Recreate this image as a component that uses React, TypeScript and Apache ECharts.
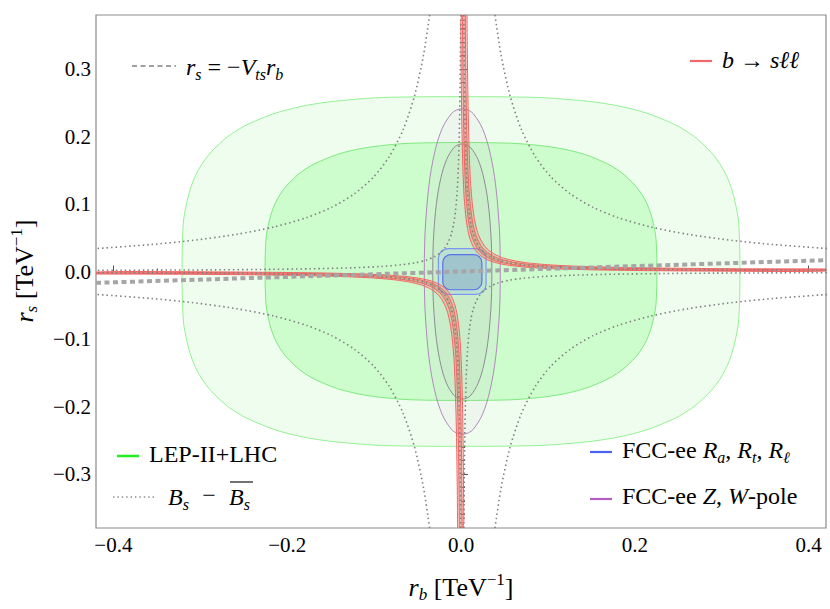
import React, { useEffect, useRef } from 'react';
import * as echarts from 'echarts';

type P = [number, number];

// ---------- axes ----------
const X_MIN = -0.42;
const X_MAX = 0.42;
const Y_MIN = -0.38;
const Y_MAX = 0.38;
const xMajorTicks = [-0.4, -0.2, 0, 0.2, 0.4];
const xMinorTicks = [-0.35, -0.3, -0.25, -0.15, -0.1, -0.05, 0.05, 0.1, 0.15, 0.25, 0.3, 0.35];
const yMajorTicks = [-0.3, -0.2, -0.1, 0, 0.1, 0.2, 0.3];
const yMinorTicks = [
  -0.36, -0.34, -0.32, -0.28, -0.26, -0.24, -0.22, -0.18, -0.16, -0.14, -0.12, -0.08, -0.06, -0.04, -0.02,
  0.02, 0.04, 0.06, 0.08, 0.12, 0.14, 0.16, 0.18, 0.22, 0.24, 0.26, 0.28, 0.32, 0.34, 0.36,
];

// ---------- data ----------
const V_TS = -0.04; // r_s = -V_ts r_b
const CENTER_RB = 0.0015; // horizontal centre of the FCC-ee / b->sll / Bs structures

// LEP-II + LHC regions, first quadrant boundary (r_b, r_s), mirrored about the axes
const lepOuterQuadrant: P[] = [
  [0.321, 0], [0.3202, 0.0564], [0.318, 0.0867], [0.3087, 0.1325], [0.2934, 0.1679], [0.2717, 0.1965],
  [0.2585, 0.2085], [0.2435, 0.2192], [0.2081, 0.2368], [0.1642, 0.2491], [0.1075, 0.2565], [0.0698, 0.2584], [0, 0.259],
];
const lepInnerQuadrant: P[] = [
  [0.2255, 0], [0.2249, 0.0375], [0.2232, 0.0594], [0.2163, 0.0934], [0.2049, 0.1203], [0.1888, 0.1422],
  [0.179, 0.1516], [0.1679, 0.1599], [0.1421, 0.1735], [0.1102, 0.1832], [0.0701, 0.1891], [0.0443, 0.1905], [0, 0.191],
];

// FCC-ee Z,W-pole regions (offsets from CENTER_RB)
const zwOuterQuadrant: P[] = [
  [0.0437, 0], [0.0434, 0.0378], [0.0423, 0.0705], [0.0383, 0.1284], [0.0319, 0.1759], [0.0233, 0.2115],
  [0.0128, 0.2335], [0.0069, 0.2391], [0, 0.241],
];
const zwInnerQuadrant: P[] = [
  [0.034, 0], [0.0337, 0.0297], [0.0329, 0.0553], [0.0298, 0.1007], [0.0248, 0.1379], [0.0181, 0.1658],
  [0.01, 0.1831], [0.0053, 0.1875], [0, 0.189],
];

// FCC-ee R_a, R_t, R_l boxes: [[rbMin, rsMin], [rbMax, rsMax]]
const raOuterBox: P[] = [[-0.026, -0.034], [0.0288, 0.034]];
const raInnerBox: P[] = [[-0.021, -0.027], [0.024, 0.025]];

// b -> s l l band centre, upper-right branch
const bsllBranch: P[] = [
  [0.0032, 0.40], [0.0033, 0.38], [0.0038, 0.30], [0.0047, 0.22], [0.0059, 0.16], [0.0073, 0.12], [0.0093, 0.09],
  [0.0115, 0.07], [0.0142, 0.055], [0.0175, 0.044], [0.0215, 0.035], [0.0265, 0.028], [0.0335, 0.022],
  [0.0425, 0.017], [0.0555, 0.013], [0.0715, 0.010], [0.0945, 0.0075], [0.1285, 0.0055], [0.1765, 0.004],
  [0.2345, 0.003], [0.2915, 0.0024], [0.43, 0.0017],
];
// band half-widths: [radial scale, r_b shift, r_s shift] for the 2-sigma and 1-sigma bands
const bsllBand2: [number, number, number] = [1.075, 0.0033, 0.0015];
const bsllBand1: [number, number, number] = [1.035, 0.0015, 0.0007];

// Bs mixing outer bound, upper-right branch
const bsMixOuterBranch: P[] = [
  [0.0373, 0.40], [0.0391, 0.38], [0.0462, 0.32], [0.0565, 0.26], [0.0696, 0.21], [0.0856, 0.17], [0.1036, 0.14],
  [0.1258, 0.115], [0.152, 0.095], [0.1803, 0.08], [0.2182, 0.066], [0.2615, 0.055], [0.3125, 0.046],
  [0.359, 0.04], [0.4221, 0.034],
];

// ---------- helpers ----------
const closeQuadrant = (q: P[], cx: number): P[] => {
  const q1 = q.map(([x, y]) => [cx + x, y] as P);
  const q2 = [...q].reverse().map(([x, y]) => [cx - x, y] as P);
  const q3 = q.map(([x, y]) => [cx - x, -y] as P);
  const q4 = [...q].reverse().map(([x, y]) => [cx + x, -y] as P);
  return [...q1, ...q2.slice(1), ...q3.slice(1), ...q4.slice(1, -1)];
};
const mirrorPoint = (b: P[]): P[] => b.map(([x, y]) => [2 * CENTER_RB - x, -y] as P);
const mirrorH = (b: P[]): P[] => b.map(([x, y]) => [2 * CENTER_RB - x, y] as P);
const mirrorV = (b: P[]): P[] => b.map(([x, y]) => [x, -y] as P);
const bandPolygon = (branch: P[], [s, ox, oy]: [number, number, number]): P[] => {
  const out = branch.map(([x, y]) => [CENTER_RB + (x - CENTER_RB) * s + ox, y * s + oy] as P);
  const inn = branch.map(([x, y]) => [CENTER_RB + (x - CENTER_RB) / s - ox, y / s - oy] as P).reverse();
  return [...out, ...inn];
};

const FF = "'Liberation Serif', 'DejaVu Serif', serif";

const shapeSeries = (points: P[], style: any, smooth = 0.35) => ({
  type: 'custom',
  coordinateSystem: 'cartesian2d',
  xAxisIndex: 0,
  yAxisIndex: 0,
  clip: true,
  silent: true,
  data: [[0, 0]],
  renderItem: (_p: any, api: any) => ({
    type: 'polygon',
    shape: { points: points.map((p) => api.coord(p)), smooth },
    style,
  }),
});

const boxSeries = (box: P[], r: number, style: any) => ({
  type: 'custom',
  coordinateSystem: 'cartesian2d',
  xAxisIndex: 0,
  yAxisIndex: 0,
  clip: true,
  silent: true,
  data: [[0, 0]],
  renderItem: (_p: any, api: any) => {
    const a = api.coord([box[0][0], box[1][1]]);
    const b = api.coord([box[1][0], box[0][1]]);
    return {
      type: 'rect',
      shape: { x: a[0], y: a[1], width: b[0] - a[0], height: b[1] - a[1], r },
      style,
    };
  },
});

const curveSeries = (data: P[], lineStyle: any) => ({
  type: 'line',
  xAxisIndex: 0,
  yAxisIndex: 0,
  data,
  showSymbol: false,
  symbol: 'none',
  silent: true,
  clip: true,
  smooth: 0.25,
  lineStyle: { cap: 'butt', join: 'round', ...lineStyle },
});

const tickLabel = (v: number) => (v < 0 ? '\u2212' : '') + Math.abs(v).toFixed(1);

const richFor = (size: number) => ({
  n: { fontFamily: FF, fontSize: size, lineHeight: size + 6, fill: '#000' },
  i: { fontFamily: FF, fontStyle: 'italic', fontSize: size, lineHeight: size + 6, fill: '#000' },
  sb: {
    fontFamily: FF, fontStyle: 'italic', fontSize: Math.round(size * 0.66), lineHeight: Math.round(size * 0.66),
    verticalAlign: 'bottom', fill: '#000',
  },
  sp: {
    fontFamily: FF, fontSize: Math.round(size * 0.66), lineHeight: Math.round(size * 0.66),
    verticalAlign: 'top', fill: '#000',
  },
});

const legendText = (x: number, y: number, text: string, size = 24, align = 'left', rotation = 0) => ({
  type: 'text',
  x,
  y,
  rotation,
  silent: true,
  style: { text, rich: richFor(size), align, verticalAlign: 'middle', fill: '#000', fontFamily: FF, fontSize: size },
});
const legendLine = (x1: number, x2: number, y: number, stroke: string, lineWidth: number, lineDash?: number[]) => ({
  type: 'line',
  silent: true,
  shape: { x1, y1: y, x2, y2: y },
  style: { stroke, lineWidth, lineDash },
});

export default function App() {
  const ref = useRef<HTMLDivElement>(null);

  useEffect(() => {
    document.body.style.margin = '0';
    const chart = echarts.init(ref.current!, null, { renderer: 'svg' });

    const series: any[] = [];
    // LEP-II + LHC
    series.push(shapeSeries(closeQuadrant(lepOuterQuadrant, 0), { fill: '#effdef', stroke: '#94f294', lineWidth: 1 }));
    series.push(shapeSeries(closeQuadrant(lepInnerQuadrant, 0), { fill: '#cdfccd', stroke: '#7eea7e', lineWidth: 1 }));
    // FCC-ee Z,W-pole
    series.push(shapeSeries(closeQuadrant(zwOuterQuadrant, CENTER_RB), { fill: 'rgba(210,120,210,0.05)', stroke: '#b288bd', lineWidth: 1 }));
    series.push(shapeSeries(closeQuadrant(zwInnerQuadrant, CENTER_RB), { fill: 'rgba(110,100,120,0.05)', stroke: '#8f8a97', lineWidth: 1 }));
    // FCC-ee R_a, R_t, R_l
    series.push(boxSeries(raOuterBox, 10, { fill: 'rgba(130,170,255,0.16)', stroke: '#7d96f6', lineWidth: 1.2 }));
    series.push(boxSeries(raInnerBox, 8, { fill: 'rgba(95,130,200,0.3)', stroke: '#5a72ec', lineWidth: 1.2 }));
    // b -> s l l band (2 sigma, then 1 sigma), both branches
    const band2 = bandPolygon(bsllBranch, bsllBand2);
    const band1 = bandPolygon(bsllBranch, bsllBand1);
    [band2, mirrorPoint(band2)].forEach((poly) =>
      series.push(shapeSeries(poly, { fill: 'rgba(240,120,100,0.26)', stroke: '#f26464', lineWidth: 1 }, 0.2)),
    );
    [band1, mirrorPoint(band1)].forEach((poly) =>
      series.push(shapeSeries(poly, { fill: 'rgba(200,110,80,0.35)', stroke: '#f26464', lineWidth: 1 }, 0.2)),
    );
    // Bs mixing (dotted)
    const dotted = { width: 1.6, color: '#808080', type: [1.5, 3] };
    const inner = [bsllBranch, mirrorPoint(bsllBranch), mirrorH(bsllBranch), mirrorV(bsllBranch)];
    const outer = [bsMixOuterBranch, mirrorPoint(bsMixOuterBranch), mirrorH(bsMixOuterBranch), mirrorV(bsMixOuterBranch)];
    [...inner, ...outer].forEach((b) => series.push(curveSeries(b, dotted)));
    // r_s = -V_ts r_b
    series.push({
      ...curveSeries([[X_MIN, -V_TS * X_MIN], [X_MAX, -V_TS * X_MAX]], { width: 4, color: '#a6a6a6', type: [5, 3.5] }),
      smooth: false,
    });

    const axisLabelStyle = { color: '#000', fontFamily: FF, fontSize: 21 };

    chart.setOption({
      animation: false,
      backgroundColor: '#fff',
      grid: { left: 96, right: 4, top: 15, bottom: 81, show: true, borderColor: '#8a8a8a', borderWidth: 1.2, backgroundColor: 'transparent' },
      xAxis: [
        {
          type: 'value', min: X_MIN, max: X_MAX, position: 'bottom',
          axisLine: { show: false }, splitLine: { show: false },
          axisTick: { show: true, inside: true, length: 6, customValues: xMajorTicks, lineStyle: { color: '#555', width: 1 } },
          axisLabel: { show: true, customValues: xMajorTicks, formatter: tickLabel, margin: 6, ...axisLabelStyle },
        },
        {
          type: 'value', min: X_MIN, max: X_MAX, position: 'bottom',
          axisLine: { show: false }, splitLine: { show: false },
          axisTick: { show: true, inside: true, length: 3, customValues: xMinorTicks, lineStyle: { color: '#555', width: 1 } },
          axisLabel: { show: false },
        },
      ],
      yAxis: [
        {
          type: 'value', min: Y_MIN, max: Y_MAX, position: 'left',
          axisLine: { show: false }, splitLine: { show: false },
          axisTick: { show: true, inside: true, length: 7, customValues: yMajorTicks, lineStyle: { color: '#555', width: 1 } },
          axisLabel: { show: true, customValues: yMajorTicks, formatter: tickLabel, margin: 5, ...axisLabelStyle },
        },
        {
          type: 'value', min: Y_MIN, max: Y_MAX, position: 'left',
          axisLine: { show: false }, splitLine: { show: false },
          axisTick: { show: true, inside: true, length: 4, customValues: yMinorTicks, lineStyle: { color: '#555', width: 1 } },
          axisLabel: { show: false },
        },
      ],
      series,
      graphic: [
        // axis titles
        legendText(461, 587, '{i|r}{sb|b}{n| [TeV}{sp|\u22121}{n|]}', 26, 'center'),
        legendText(24, 271, '{i|r}{sb|s}{n| [TeV}{sp|\u22121}{n|]}', 26, 'center', Math.PI / 2),
        // legends
        legendLine(132, 176, 66, '#a0a0a0', 2.2, [5, 3.5]),
        legendText(186, 67, '{i|r}{sb|s}{n| = \u2212}{i|V}{sb|ts}{i|r}{sb|b}'),
        legendLine(690, 712, 61, '#f06a6a', 2.2),
        legendText(722, 60, '{i|b}{n| \u2192 }{i|s\u2113\u2113}'),
        legendLine(117, 139, 456, '#22ee22', 2.5),
        legendText(149, 454, '{n|LEP-II+LHC}'),
        legendLine(113, 156, 497, '#8a8a8a', 1.4, [1.4, 3]),
        legendText(168, 497, '{i|B}{sb|s}'),
        legendText(209, 495, '{n|\u2212}', 24, 'center'),
        legendText(229, 497, '{i|B}{sb|s}'),
        legendLine(230, 253, 482, '#000', 1.1),
        legendLine(590, 612, 452, '#4e62f2', 2.2),
        legendText(622, 450, '{n|FCC-ee }{i|R}{sb|a}{n|, }{i|R}{sb|t}{n|, }{i|R}{sb|\u2113}'),
        legendLine(590, 612, 499, '#b35fc0', 2.2),
        legendText(622, 496, '{n|FCC-ee }{i|Z}{n|, }{i|W}{n|-pole}'),
      ],
    });

    return () => chart.dispose();
  }, []);

  return <div ref={ref} style={{ width: 830, height: 609 }} />;
}
